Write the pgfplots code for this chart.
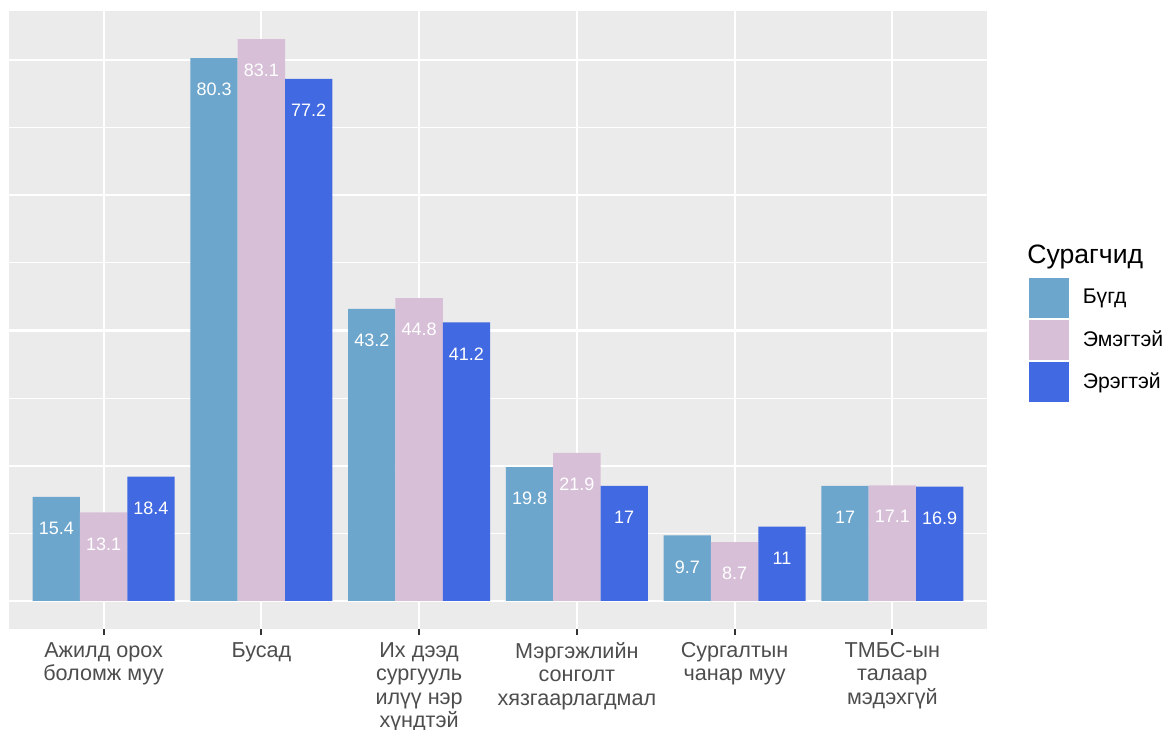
\documentclass[border=0pt]{standalone}
\usepackage{fontspec}
\setmainfont{Liberation Sans}
\usepackage{pgfplots}
\pgfplotsset{compat=1.18}
\definecolor{cAll}{RGB}{108,166,205}
\definecolor{cF}{RGB}{216,191,216}
\definecolor{cM}{RGB}{65,105,225}
\definecolor{panel}{RGB}{235,235,235}
\definecolor{gtick}{RGB}{77,77,77}
\definecolor{gt}{RGB}{51,51,51}
\begin{document}
\begin{tikzpicture}
\begin{axis}[name=ax, scale only axis, width=489bp, height=309bp,
  xmin=0.4, xmax=6.6, ymin=-4.155, ymax=87.255,
  axis background/.style={fill=panel},
  axis line style={draw=none},
  xtick={1,2,3,4,5,6},
  xticklabels={{Ажилд орох\\боломж муу},{Бусад},{Их дээд\\сургууль\\илүү нэр\\хүндтэй},{Мэргэжлийн\\сонголт\\хязгаарлагдмал},{Сургалтын\\чанар муу},{ТМБС-ын\\талаар\\мэдэхгүй}},
  xticklabel style={align=center, font=\fontsize{10.8bp}{11.7bp}\selectfont, text=gtick, inner sep=0pt, yshift=-3.5bp},
  ytick={0,20,40,60,80}, minor ytick={10,30,50,70}, yticklabels={},
  ymajorgrids, yminorgrids, xmajorgrids,
  major grid style={white, line width=1.1bp},
  minor grid style={white, line width=0.55bp},
  tick align=outside, xtick pos=bottom, ytick pos=left,
  major tick length=3bp, minor tick length=0pt,
  xtick style={gt, line width=1bp},
  ytick style={draw=none},
  ybar, bar width=0.3,
  nodes near coords, point meta=explicit symbolic,
  every node near coord/.append style={anchor=center, yshift=-15.75bp, text=white, font=\fontsize{9bp}{10bp}\selectfont},
  legend style={at={(1,1)}, anchor=north west, xshift=21.15bp, yshift=-133.65bp, draw=none, fill=none, inner sep=0pt, outer sep=0pt, row sep=1.25bp, font=\fontsize{10.6bp}{12bp}\selectfont, nodes={inner sep=0pt}, /tikz/every odd column/.style={column sep=7bp}},
  legend cell align=left,
  legend image code/.code={\fill[#1, draw=none] (0bp,-9.875bp) rectangle (19.75bp,9.875bp);},
]
\addplot[fill=cAll, draw=none, bar shift=-0.3] coordinates {(1,15.4)[15.4] (2,80.3)[80.3] (3,43.2)[43.2] (4,19.8)[19.8] (5,9.7)[9.7] (6,17)[17]};
\addlegendentry{Бүгд}
\addplot[fill=cF, draw=none, bar shift=0] coordinates {(1,13.1)[13.1] (2,83.1)[83.1] (3,44.8)[44.8] (4,21.9)[21.9] (5,8.7)[8.7] (6,17.1)[17.1]};
\addlegendentry{Эмэгтэй}
\addplot[fill=cM, draw=none, bar shift=0.3] coordinates {(1,18.4)[18.4] (2,77.2)[77.2] (3,41.2)[41.2] (4,17)[17] (5,11)[11] (6,16.9)[16.9]};
\addlegendentry{Эрэгтэй}
\end{axis}
\node[anchor=base west, inner sep=0pt, font=\fontsize{13.3bp}{15bp}\selectfont] at ([xshift=20bp, yshift=-126.3bp]ax.north east) {Сурагчид};
\pgfresetboundingbox
\path[use as bounding box] ([shift={(-4.5bp,-50bp)}]ax.south west) rectangle ([shift={(90bp,5.5bp)}]ax.north east);
\end{tikzpicture}
\end{document}
